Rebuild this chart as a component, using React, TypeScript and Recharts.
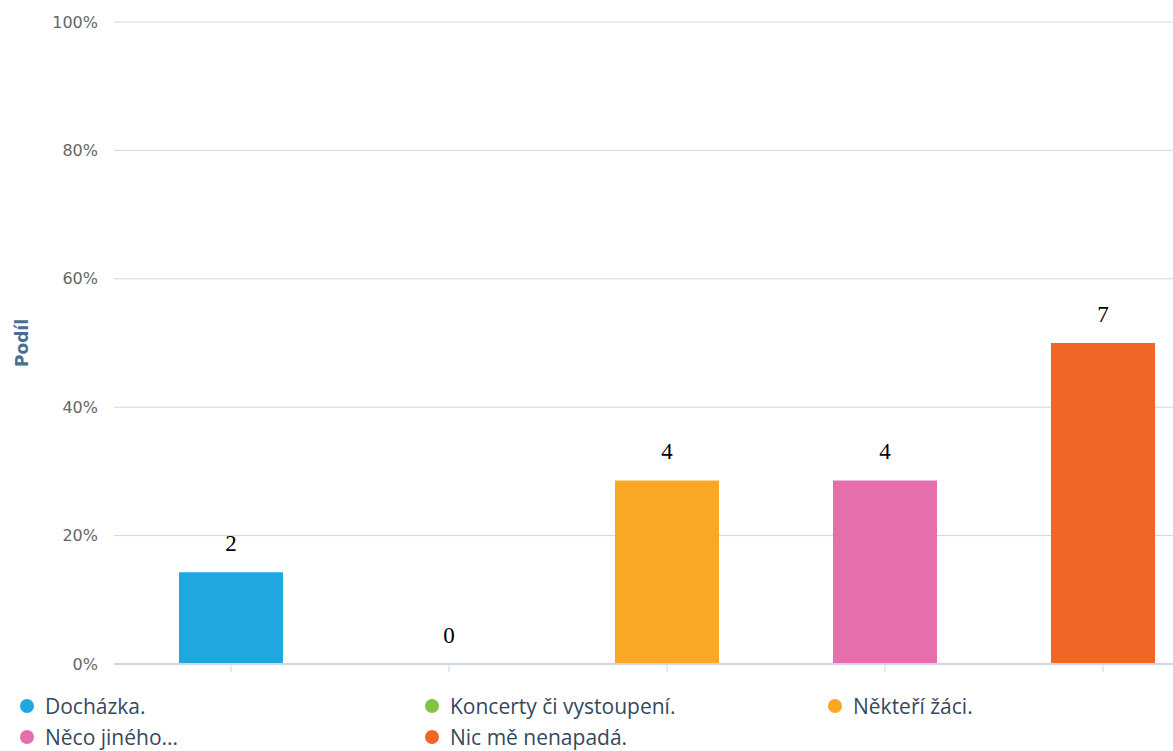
import { ComposedChart, Bar, Line, XAxis, YAxis, CartesianGrid, LabelList, Cell } from 'recharts'

const categories = ['Docházka.', 'Koncerty či vystoupení.', 'Někteří žáci.', 'Něco jiného...', 'Nic mě nenapadá.']
const counts = [2, 0, 4, 4, 7]
const shares = [14.3, 0, 28.6, 28.6, 50]
const colors = ['#1fa8e0', '#80c342', '#f9a825', '#e56eab', '#f06624']
const yTicks = [0, 20, 40, 60, 80, 100]

const data = categories.map((name, i) => ({ name, count: counts[i], share: shares[i] }))

const YLabel = (props: any) => {
  const vb = props.viewBox
  const x = 22
  const y = vb.y + vb.height / 2
  return (
    <text
      x={x}
      y={y}
      transform={`rotate(-90 ${x} ${y})`}
      textAnchor="middle"
      dominantBaseline="central"
      fill="#4d6d94"
      fontWeight="bold"
      fontSize={17}
      fontFamily="DejaVu Sans"
    >
      Podíl
    </text>
  )
}

export default function App() {
  return (
    <div style={{ position: 'absolute', left: 0, top: 0, width: 1173, height: 751, overflow: 'hidden', background: '#fff' }}>
      <ComposedChart width={1220} height={680} data={data} margin={{ top: 22, right: 0, left: 0, bottom: 0 }}>
        <CartesianGrid vertical={false} stroke="#d6d6d6" />
        <XAxis
          dataKey="name"
          interval={0}
          height={16}
          padding={{ left: 8, right: 8 }}
          tickSize={8}
          axisLine={{ stroke: '#ccd6eb', strokeWidth: 2 }}
          tickLine={{ stroke: '#ccd6eb' }}
          tickFormatter={() => ''}
        />
        <YAxis
          width={114}
          domain={[0, 100]}
          ticks={yTicks}
          interval={0}
          tickFormatter={(v) => `${v}%`}
          axisLine={false}
          tickLine={false}
          tickSize={0}
          tickMargin={16}
          tick={{ fill: '#666', fontSize: 16, fontFamily: 'DejaVu Sans' }}
          label={{ content: YLabel }}
        />
        <Bar dataKey="share" barSize={104} isAnimationActive={false}>
          {data.map((d, i) => (
            <Cell key={d.name} fill={colors[i]} />
          ))}
        </Bar>
        {/* invisible line only carries the count labels, so the zero bar gets one too */}
        <Line
          dataKey="share"
          stroke="none"
          dot={false}
          activeDot={false}
          isAnimationActive={false}
        >
          <LabelList
            dataKey="count"
            position="top"
            offset={21}
            fill="#000"
            fontSize={23}
            fontFamily="Liberation Serif"
          />
        </Line>
      </ComposedChart>
      <div
        style={{
          position: 'absolute',
          left: 20,
          top: 690,
          width: 1212,
          display: 'grid',
          gridTemplateColumns: '405px 403px 404px',
          fontFamily: 'Open Sans',
          fontSize: 21,
          lineHeight: '28px',
          color: '#34495e',
        }}
      >
        {categories.map((name, i) => (
          <div key={name} style={{ display: 'flex', alignItems: 'center', height: 31 }}>
            <span
              style={{
                display: 'inline-block',
                width: 14,
                height: 14,
                borderRadius: '50%',
                background: colors[i],
                marginRight: 11,
                flexShrink: 0,
              }}
            />
            <span>{name}</span>
          </div>
        ))}
      </div>
    </div>
  )
}
